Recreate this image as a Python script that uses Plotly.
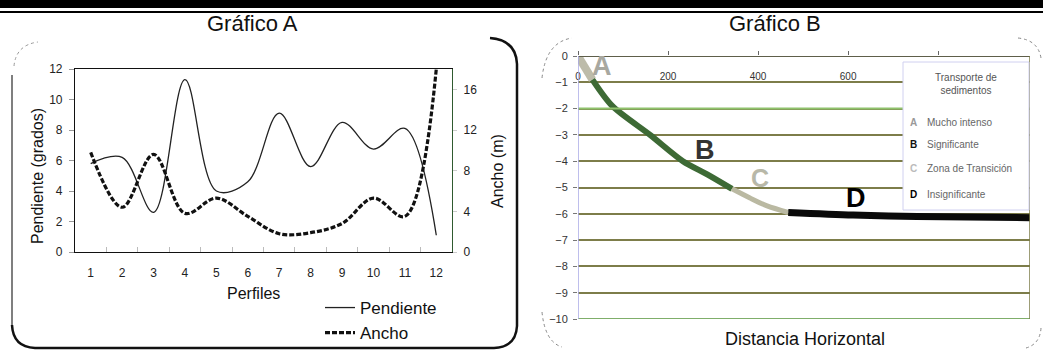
import plotly.graph_objects as go

# ---------------- data ----------------
perfiles = [str(i) for i in range(1, 13)]
pendiente = [5.8, 6.2, 2.6, 11.3, 4.0, 4.6, 9.1, 5.6, 8.5, 6.75, 8.1, 1.1]
ancho = [9.8, 4.4, 9.6, 3.8, 5.3, 3.5, 1.8, 1.9, 2.8, 5.3, 3.5, 18.0]

dist_a = [0, 32]
prof_a = [0, -0.9]
dist_b = [32, 76, 160, 233, 287, 342]
prof_b = [-0.9, -1.9, -3.0, -4.0, -4.5, -5.05]
dist_c = [342, 382, 420, 467]
prof_c = [-5.05, -5.4, -5.7, -5.95]
dist_d = [467, 611, 753, 1004]
prof_d = [-5.95, -6.05, -6.1, -6.15]

left_ticks = [0, 2, 4, 6, 8, 10, 12]
right_ticks = [0, 4, 8, 12, 16]
b_xticks = [0, 200, 400, 600, 800]
b_xlabels = ["0", "200", "400", "600", ""]
b_yticks = list(range(0, -11, -1))

legend_b_title = "Transporte de<br>sedimentos"
legend_b_letters = ["A", "B", "C", "D"]
legend_b_labels = ["Mucho intenso", "Significante", "Zona de Transición", "Insignificante"]

FONT = "Liberation Sans, Arial, sans-serif"
W, H = 1043, 351


def X(px):
    return px / W


def Y(py):
    return 1 - py / H


fig = go.Figure()

# ---------------- Gráfico A ----------------
fig.add_trace(go.Scatter(
    x=perfiles, y=pendiente, name="Pendiente", mode="lines",
    line=dict(color="#222222", width=1.3, shape="spline", smoothing=1.0),
    xaxis="x", yaxis="y", legend="legend"))
fig.add_trace(go.Scatter(
    x=perfiles, y=ancho, name="Ancho", mode="lines",
    line=dict(color="#111111", width=3.2, dash="5px,2px", shape="spline", smoothing=1.0),
    xaxis="x", yaxis="y2", legend="legend"))

# ---------------- Gráfico B ----------------
seg_styles = [
    (dist_a, prof_a, "#bdbcaa", 8),
    (dist_b, prof_b, "#3d6a35", 6),
    (dist_c, prof_c, "#bab9a2", 5),
    (dist_d, prof_d, "#0a0a0a", 7),
]
for dx, dy, col, wd in seg_styles:
    fig.add_trace(go.Scatter(
        x=dx, y=dy, mode="lines", showlegend=False,
        line=dict(color=col, width=wd, shape="spline", smoothing=0.8),
        xaxis="x2", yaxis="y3"))

tickfont_a = dict(family=FONT, size=12, color="#222")
fig.update_layout(
    width=W, height=H, margin=dict(l=0, r=0, t=0, b=0, pad=0, autoexpand=False),
    autosize=False,
    paper_bgcolor="white", plot_bgcolor="white",
    font=dict(family=FONT, color="#111"),
    xaxis=dict(domain=[X(75), X(452)], type="category", range=[-0.5, 11.5],
               showline=True, linecolor="#111", linewidth=1.2, mirror=True,
               showgrid=False, zeroline=False, ticks="inside", tickson="boundaries",
               ticklen=5, tickcolor="#bbbbbb", tickfont=tickfont_a,
               ticklabelstandoff=9, anchor="y", automargin=False),
    yaxis=dict(domain=[Y(252), Y(69)], range=[0, 12], tickvals=left_ticks,
               showline=True, linecolor="#111", linewidth=1.2,
               showgrid=False, zeroline=False, ticks="outside", ticklen=5,
               tickcolor="#999999", tickfont=tickfont_a, ticklabelstandoff=4,
               anchor="x", automargin=False),
    yaxis2=dict(domain=[Y(252), Y(69)], range=[0, 18], tickvals=right_ticks,
                overlaying="y", side="right", anchor="x",
                showline=True, linecolor="#2f5a2f", linewidth=1.2,
                showgrid=False, zeroline=False, ticks="outside", ticklen=4,
                tickcolor="#cccccc", tickfont=tickfont_a, ticklabelstandoff=4,
                automargin=False),
    xaxis2=dict(domain=[X(578), X(1030)], range=[0, 1004], tickvals=b_xticks,
                ticktext=b_xlabels,
                side="top", anchor="y3", ticklabelposition="inside",
                ticklabeloverflow="allow",
                showline=False, showgrid=False, zeroline=False,
                ticks="outside", ticklen=4, tickcolor="#666",
                tickfont=dict(family=FONT, size=10, color="#333"),
                ticklabelstandoff=14, automargin=False),
    yaxis3=dict(domain=[Y(319), Y(56)], range=[-10, 0], tickvals=b_yticks,
                anchor="x2", showline=False, zeroline=False,
                ticklabeloverflow="allow",
                showgrid=True, gridcolor="#7d7d4a", gridwidth=2,
                ticks="outside", ticklen=4, tickcolor="#777",
                tickfont=dict(family=FONT, size=11, color="#333"),
                ticklabelstandoff=3, automargin=False),
    legend=dict(x=X(320), y=Y(290), xanchor="left", yanchor="top",
                bgcolor="rgba(0,0,0,0)", font=dict(family=FONT, size=17, color="#111"),
                tracegroupgap=0, itemwidth=30),
)

shapes = []
# top header bars
shapes.append(dict(type="rect", xref="paper", yref="paper", x0=0, x1=1, y0=Y(8), y1=Y(0),
                   fillcolor="black", line=dict(width=0), layer="above"))
shapes.append(dict(type="line", xref="paper", yref="paper", x0=0, x1=1, y0=Y(12), y1=Y(12),
                   line=dict(color="black", width=2), layer="above"))

# panel A frame
shapes.append(dict(type="line", xref="paper", yref="paper", x0=X(12), x1=X(12), y0=Y(75), y1=Y(325),
                   line=dict(color="#555", width=1.5)))
shapes.append(dict(type="path", xref="paper", yref="paper",
                   path=f"M{X(12)},{Y(325)} Q{X(13)},{Y(347)} {X(35)},{Y(348)} L{X(494)},{Y(348)} "
                        f"Q{X(516)},{Y(347)} {X(517)},{Y(326)} L{X(517)},{Y(64)} Q{X(516)},{Y(40)} {X(490)},{Y(38)}",
                   line=dict(color="#111", width=2.5)))
shapes.append(dict(type="path", xref="paper", yref="paper",
                   path=f"M{X(14)},{Y(66)} Q{X(16)},{Y(45)} {X(38)},{Y(42)}",
                   line=dict(color="#999", width=1, dash="dot")))

# panel B frame (dotted corners)
for p in [
    f"M{X(542)},{Y(78)} Q{X(546)},{Y(42)} {X(572)},{Y(38)}",
    f"M{X(542)},{Y(312)} Q{X(545)},{Y(342)} {X(562)},{Y(347)}",
    f"M{X(1018)},{Y(38)} Q{X(1038)},{Y(40)} {X(1041)},{Y(58)}",
    f"M{X(1041)},{Y(328)} Q{X(1040)},{Y(344)} {X(1026)},{Y(348)}",
]:
    shapes.append(dict(type="path", xref="paper", yref="paper", path=p,
                       line=dict(color="#888", width=1, dash="dot")))

# panel B borders & special grid lines
shapes.append(dict(type="line", xref="x2", yref="y3", x0=0, x1=1004, y0=0, y1=0,
                   line=dict(color="#5e5e4a", width=2)))
shapes.append(dict(type="line", xref="x2", yref="y3", x0=0, x1=1004, y0=-2, y1=-2,
                   line=dict(color="#8fc26c", width=2)))
shapes.append(dict(type="line", xref="x2", yref="y3", x0=0, x1=1004, y0=-10, y1=-10,
                   line=dict(color="#7fae6a", width=2)))
shapes.append(dict(type="line", xref="x2", yref="y3", x0=0, x1=0, y0=-10, y1=0,
                   line=dict(color="#a9a9e6", width=1.5)))
shapes.append(dict(type="line", xref="x2", yref="y3", x0=1004, x1=1004, y0=-10, y1=0,
                   line=dict(color="#7d7d4a", width=1.5)))
# legend box B
shapes.append(dict(type="rect", xref="paper", yref="paper", x0=X(903), x1=X(1029), y0=Y(210), y1=Y(62),
                   fillcolor="white", line=dict(color="#d0d0f0", width=1), layer="above"))
fig.update_layout(shapes=shapes)

ann = []


def add_text(text, px, py, size, color="#111", angle=0, xanchor="center", ref=("paper", "paper")):
    ann.append(dict(text=text, x=px, y=py, xref=ref[0], yref=ref[1], showarrow=False,
                    xanchor=xanchor, yanchor="middle", textangle=angle,
                    font=dict(family=FONT, size=size, color=color)))


# titles
add_text("Gráfico A", X(252), Y(23), 22)
add_text("Gráfico B", X(775), Y(23), 22)
# axis titles A
add_text("Perfiles", X(253), Y(293), 16)
add_text("Pendiente (grados)", X(37), Y(176), 16, angle=-90)
add_text("Ancho (m)", X(497), Y(171), 16, angle=-90)
# axis title B
add_text("Distancia Horizontal", X(805), Y(339), 18)
# curve letters
letter_pos = [(53, -0.38, "#a8a8a0", 27), (282, -3.57, "#333333", 27),
              (404, -4.64, "#b8b8a8", 25), (618, -5.4, "#000000", 27)]
for (lx, ly, lc, ls), lt in zip(letter_pos, legend_b_letters):
    add_text(f"<b>{lt}</b>", lx, ly, ls, color=lc, ref=("x2", "y3"))
# legend B
add_text(legend_b_title, X(966), Y(84), 10, color="#555")
leg_y = [122, 145, 169, 194]
leg_col = ["#999999", "#111111", "#bbbbbb", "#000000"]
for lt, lab, py, lc in zip(legend_b_letters, legend_b_labels, leg_y, leg_col):
    add_text(f"<b>{lt}</b>", X(913), Y(py), 10, color=lc)
    add_text(lab, X(925), Y(py), 10, color="#666", xanchor="left")
fig.update_layout(annotations=ann)

fig.write_html("out.html", config={"displayModeBar": False},
               post_script="document.body.style.margin='0px';")
